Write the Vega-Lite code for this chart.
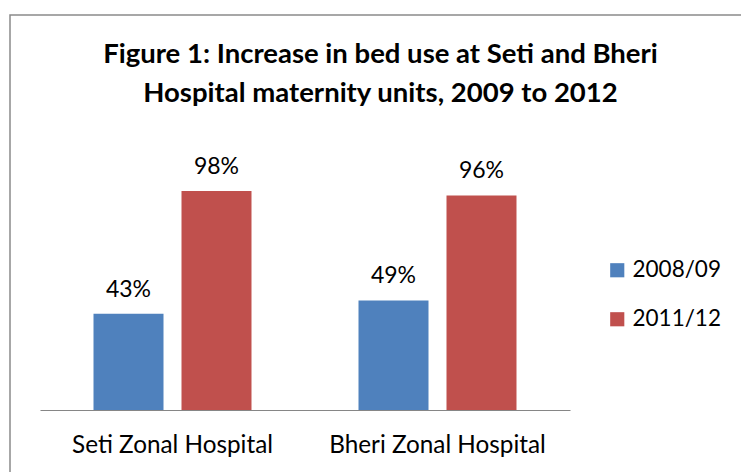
{
  "$schema": "https://vega.github.io/schema/vega-lite/v6.json",
  "autosize": {"type": "none"},
  "padding": {"left": 10, "top": 15, "right": 0, "bottom": 0},
  "width": 741,
  "height": 472,
  "background": "white",
  "config": {
    "font": "Lato",
    "view": {"stroke": "#8a8a8a", "strokeWidth": 1.5, "fill": "white"}
  },
  "title": {
    "text": ["Figure 1: Increase in bed use at Seti and Bheri", "Hospital maternity units, 2009 to 2012"],
    "anchor": "middle",
    "frame": "group",
    "orient": "top",
    "baseline": "top",
    "offset": -92,
    "fontSize": 27.5,
    "fontWeight": "bold",
    "lineHeight": 39,
    "color": "#000000",
    "font": "Lato"
  },
  "data": {
    "values": [
      {"hospital": "Seti Zonal Hospital", "year": "2008/09", "value": 0.43},
      {"hospital": "Seti Zonal Hospital", "year": "2011/12", "value": 0.98},
      {"hospital": "Bheri Zonal Hospital", "year": "2008/09", "value": 0.49},
      {"hospital": "Bheri Zonal Hospital", "year": "2011/12", "value": 0.96}
    ]
  },
  "encoding": {
    "x": {
      "field": "hospital",
      "type": "nominal",
      "sort": ["Seti Zonal Hospital", "Bheri Zonal Hospital"],
      "scale": {"range": [30, 560], "paddingInner": 0, "paddingOuter": 0},
      "axis": {
        "orient": "bottom",
        "offset": -77,
        "title": null,
        "labelAngle": 0,
        "ticks": false,
        "grid": false,
        "domainColor": "#868686",
        "domainWidth": 1.2,
        "labelFontSize": 24.3,
        "labelLimit": 400,
        "labelColor": "#000000",
        "labelPadding": 23,
        "labelBaseline": "top",
        "labelFont": "Lato"
      }
    },
    "xOffset": {
      "field": "year",
      "type": "nominal",
      "sort": ["2008/09", "2011/12"],
      "scale": {"paddingInner": 0.2045, "paddingOuter": 0.608}
    },
    "y": {
      "field": "value",
      "type": "quantitative",
      "scale": {"domain": [-0.3445, 1.767], "nice": false, "zero": false},
      "axis": null
    }
  },
  "layer": [
    {
      "mark": {"type": "bar"},
      "encoding": {
        "y2": {"datum": 0},
        "color": {
          "field": "year",
          "type": "nominal",
          "scale": {"domain": ["2008/09", "2011/12"], "range": ["#4F81BD", "#C0504D"]},
          "legend": {
            "title": null,
            "orient": "none",
            "legendX": 596,
            "legendY": 244,
            "padding": 0,
            "symbolType": "square",
            "symbolSize": 200,
            "symbolStrokeWidth": 0,
            "labelFontSize": 22.5,
            "labelColor": "#000000",
            "labelOffset": 4,
            "labelFont": "Lato",
            "rowPadding": 26
          }
        }
      }
    },
    {
      "mark": {"type": "text", "baseline": "alphabetic", "dy": -17, "fontSize": 23, "color": "#000000", "font": "Lato"},
      "encoding": {
        "text": {"field": "value", "type": "quantitative", "format": ".0%"}
      }
    }
  ]
}
